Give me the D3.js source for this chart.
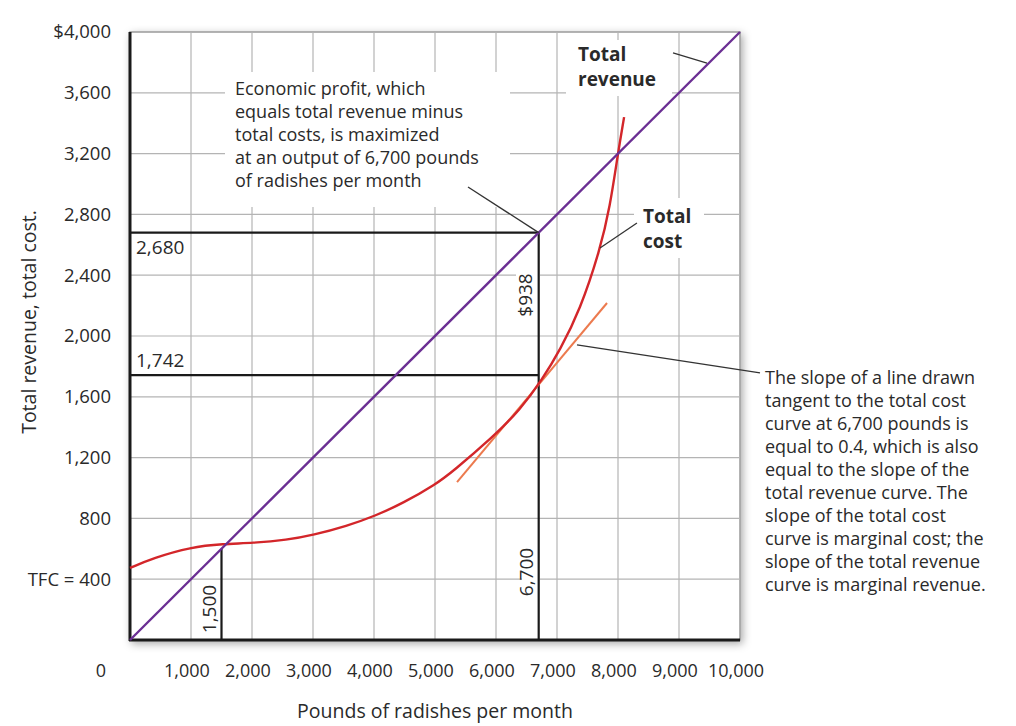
<!DOCTYPE html>
<html>
<head>
<meta charset="utf-8">
<script src="https://cdn.jsdelivr.net/npm/d3@7"></script>
<style>
  html, body { margin: 0; padding: 0; background: #fff; }
  svg { display: block; font-family: "Open Sans", Lato, sans-serif; }
</style>
</head>
<body>
<svg id="chart" width="1016" height="726"></svg>
<script>
// ---------- data ----------
const xTicks = [1000, 2000, 3000, 4000, 5000, 6000, 7000, 8000, 9000, 10000];
const yTicks = [800, 1200, 1600, 2000, 2400, 2800, 3200, 3600, 4000];
const yTickLabels = ["800", "1,200", "1,600", "2,000", "2,400", "2,800", "3,200", "3,600", "$4,000"];
const gridX = [1000, 2000, 3000, 4000, 5000, 6000, 7000, 8000, 9000];
const gridY = [400, 800, 1200, 1600, 2000, 2400, 2800, 3200, 3600];

// Total revenue: price 0.40 per pound
const revenueX = [0, 10000];
const revenueY = [0, 4000];

// Total cost curve
const costX = [0, 377, 1000, 1525, 2016, 2574, 3000, 3557, 4016, 4475, 5016, 5295, 5951, 6393, 6754, 7049, 7377, 7705, 7869, 8000, 8100];
const costY = [474, 539, 612, 632, 638, 658, 690, 750, 816, 900, 1025, 1110, 1336, 1513, 1711, 1908, 2170, 2566, 2850, 3204, 3440];

// Tangent line at 6,700
const tangentX = [5361, 7820];
const tangentY = [1039, 2217];

// Key values
const qBreakEven = 1500;
const qOptimal = 6700;
const trOptimal = 2680;
const tcOptimal = 1742;

// ---------- layout ----------
const svg = d3.select("#chart");
const x = d3.scaleLinear().domain([0, 10000]).range([130, 740]);
const y = d3.scaleLinear().domain([0, 4000]).range([640, 32]);

const defs = svg.append("defs");
const f = defs.append("filter").attr("id", "shadow").attr("x", "-5%").attr("y", "-5%").attr("width", "115%").attr("height", "115%");
f.append("feDropShadow").attr("dx", 2).attr("dy", 3).attr("stdDeviation", 4).attr("flood-color", "#000").attr("flood-opacity", 0.35);

// plot background with shadow
svg.append("rect")
  .attr("x", x(0)).attr("y", y(4000))
  .attr("width", x(10000) - x(0)).attr("height", y(0) - y(4000))
  .attr("fill", "#fff").attr("stroke", "#9a9a9a").attr("stroke-width", 1.5)
  .attr("filter", "url(#shadow)");

// grid
const gridColor = "#b4b4b4";
svg.append("g").selectAll("line").data(gridX).join("line")
  .attr("x1", d => x(d)).attr("x2", d => x(d))
  .attr("y1", y(0)).attr("y2", y(4000))
  .attr("stroke", gridColor).attr("stroke-width", 1.2);
svg.append("g").selectAll("line").data(gridY).join("line")
  .attr("x1", x(0)).attr("x2", x(10000))
  .attr("y1", d => y(d)).attr("y2", d => y(d))
  .attr("stroke", gridColor).attr("stroke-width", 1.2);

// white knockouts behind annotation text
const knock = svg.append("g").attr("fill", "#fff");
knock.append("rect").attr("x", 225).attr("y", 72).attr("width", 285).attr("height", 135);
knock.append("rect").attr("x", 566).attr("y", 40).attr("width", 106).attr("height", 56);
knock.append("rect").attr("x", 634).attr("y", 198).attr("width", 70).attr("height", 60);
knock.append("rect").attr("x", 516).attr("y", 262).attr("width", 24).attr("height", 66);
knock.append("rect").attr("x", 522).attr("y", 538).attr("width", 18).attr("height", 70);
knock.append("rect").attr("x", 202).attr("y", 580).attr("width", 19).attr("height", 58);

// black reference lines
const blk = svg.append("g").attr("stroke", "#1a1a1a").attr("stroke-width", 2.2).attr("fill", "none");
blk.append("line").attr("x1", x(0)).attr("x2", x(qOptimal)).attr("y1", y(trOptimal)).attr("y2", y(trOptimal));
blk.append("line").attr("x1", x(0)).attr("x2", x(qOptimal)).attr("y1", y(tcOptimal)).attr("y2", y(tcOptimal));
blk.append("line").attr("x1", x(qOptimal)).attr("x2", x(qOptimal)).attr("y1", y(0)).attr("y2", y(trOptimal));
blk.append("line").attr("x1", x(qBreakEven)).attr("x2", x(qBreakEven)).attr("y1", y(0)).attr("y2", y(qBreakEven * 0.4));

// axes (left & bottom)
svg.append("line").attr("x1", x(0)).attr("x2", x(0)).attr("y1", y(0) + 1).attr("y2", y(4000))
  .attr("stroke", "#1a1a1a").attr("stroke-width", 3);
svg.append("line").attr("x1", x(0) - 1).attr("x2", x(10000)).attr("y1", y(0)).attr("y2", y(0))
  .attr("stroke", "#1a1a1a").attr("stroke-width", 3);

// curves
const line = d3.line().x(d => x(d[0])).y(d => y(d[1]));
svg.append("path")
  .datum(d3.zip(tangentX, tangentY))
  .attr("d", line)
  .attr("stroke", "#ec7a4e").attr("stroke-width", 2).attr("fill", "none");
svg.append("path")
  .datum(d3.zip(costX, costY))
  .attr("d", d3.line().x(d => x(d[0])).y(d => y(d[1])).curve(d3.curveBasis))
  .attr("stroke", "#d3262a").attr("stroke-width", 2.4).attr("fill", "none");
svg.append("path")
  .datum(d3.zip(revenueX, revenueY))
  .attr("d", line)
  .attr("stroke", "#6b2f93").attr("stroke-width", 2.4).attr("fill", "none");

// leader lines (data units)
const leaders = [
  [[5541, 2980], [qOptimal, trOptimal]],
  [[8902, 3862], [9459, 3796]],
  [[8311, 2743], [7705, 2579]],
  [[7328, 1941], [10328, 1757]]
];
svg.append("g").selectAll("path").data(leaders).join("path")
  .attr("d", line)
  .attr("stroke", "#333").attr("stroke-width", 1.3).attr("fill", "none");

// ---------- text ----------
const txtColor = "#2a2a2a";

// y tick labels
svg.append("g").selectAll("text").data(yTicks).join("text")
  .attr("x", 111).attr("y", d => y(d)).attr("dy", "0.35em")
  .attr("text-anchor", "end").attr("font-size", 18.5).attr("fill", txtColor)
  .text((d, i) => yTickLabels[i]);
svg.append("text").attr("x", 111).attr("y", y(400)).attr("dy", "0.35em")
  .attr("text-anchor", "end").attr("font-size", 18.5).attr("fill", txtColor).text("TFC = 400");

// x tick labels
svg.append("g").selectAll("text").data(xTicks).join("text")
  .attr("x", d => x(d) - 4).attr("y", 677)
  .attr("text-anchor", "middle").attr("font-size", 18).attr("fill", txtColor)
  .text(d => d3.format(",")(d));
svg.append("text").attr("x", 101).attr("y", 677).attr("text-anchor", "middle")
  .attr("font-size", 18).attr("fill", txtColor).text("0");

// axis titles
svg.append("text").attr("x", 435).attr("y", 718).attr("text-anchor", "middle")
  .attr("font-size", 19.5).attr("fill", txtColor).text("Pounds of radishes per month");
svg.append("text").attr("transform", "translate(36,322) rotate(-90)").attr("text-anchor", "middle")
  .attr("font-size", 19.5).attr("fill", txtColor).text("Total revenue, total cost.");

// value labels
svg.append("text").attr("x", 136).attr("y", y(trOptimal) + 21).attr("font-size", 19).attr("fill", txtColor).text("2,680");
svg.append("text").attr("x", 136).attr("y", y(tcOptimal) - 8).attr("font-size", 19).attr("fill", txtColor).text("1,742");
svg.append("text").attr("transform", `translate(${x(qOptimal) - 7},295) rotate(-90)`).attr("text-anchor", "middle")
  .attr("font-size", 19).attr("fill", txtColor).text("$938");
svg.append("text").attr("transform", `translate(${x(qOptimal) - 6},572) rotate(-90)`).attr("text-anchor", "middle")
  .attr("font-size", 19).attr("fill", txtColor).text("6,700");
svg.append("text").attr("transform", `translate(${x(qBreakEven) - 6},609) rotate(-90)`).attr("text-anchor", "middle")
  .attr("font-size", 19).attr("fill", txtColor).text("1,500");

// curve labels
function multiline(lines, px, py, opts = {}) {
  const t = svg.append("text").attr("x", px).attr("y", py)
    .attr("font-size", opts.size || 18).attr("fill", txtColor)
    .attr("font-weight", opts.weight || "normal");
  lines.forEach((l, i) => t.append("tspan").attr("x", px).attr("y", py + i * (opts.lh || 23)).text(l));
}
function boldLabel(lines, px, py) {
  lines.forEach((l, i) => svg.append("text").attr("x", px).attr("y", py + i * 25)
    .attr("font-size", 19).attr("font-weight", "bold").attr("fill", txtColor).text(l));
}
boldLabel(["Total", "revenue"], 578, 61);
boldLabel(["Total", "cost"], 643, 223);
multiline(["Economic profit, which", "equals total revenue minus", "total costs, is maximized",
  "at an output of 6,700 pounds", "of radishes per month"], 235, 95);
multiline(["The slope of a line drawn", "tangent to the total cost", "curve at 6,700 pounds is",
  "equal to 0.4, which is also", "equal to the slope of the", "total revenue curve. The",
  "slope of the total cost", "curve is marginal cost; the", "slope of the total revenue",
  "curve is marginal revenue."], 765, 384);
</script>
</body>
</html>
